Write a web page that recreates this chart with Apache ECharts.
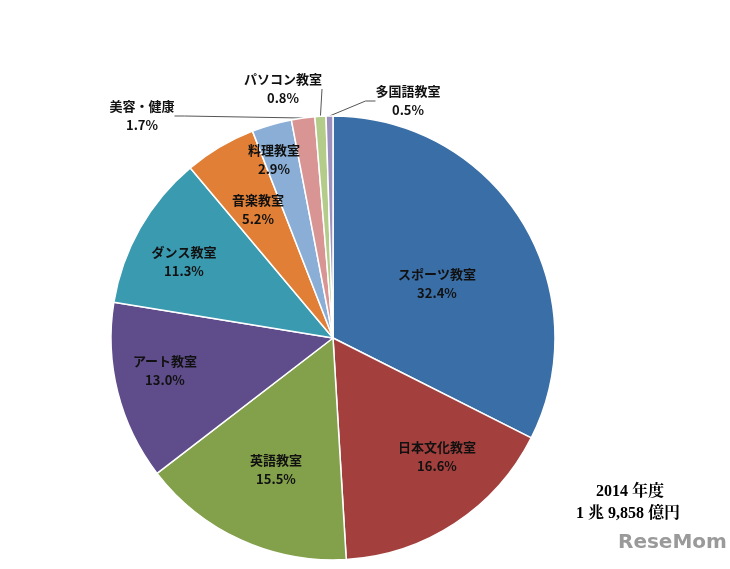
<!DOCTYPE html>
<html><head><meta charset="utf-8">
<script src="https://cdn.jsdelivr.net/npm/echarts@6/dist/echarts.min.js"></script>
<style>html,body{margin:0;background:#fff}#c{width:730px;height:569px}</style>
</head><body><div id="c"></div>
<script>
const categories=['スポーツ教室','日本文化教室','英語教室','アート教室','ダンス教室','音楽教室','料理教室','美容・健康','パソコン教室','多国語教室'];
const values=[32.4,16.6,15.5,13.0,11.3,5.2,2.9,1.7,0.8,0.5];
const colors=['#3A6EA6','#A3403D','#83A04A','#5E4C8B','#3A9AB0','#E07F35','#8AAED6','#D99594','#B4CC8A','#9D8FBE'];
const labelPos={0:[437,284],1:[437,457],2:[276,470],3:[165,371],4:[184,262],5:[258,210],6:[274,160],7:[142,116],8:[283,89],9:[408,101]};
const chart=echarts.init(document.getElementById('c'));
chart.setOption({
 animation:false,
 series:[{type:'pie',center:[333,338],radius:222,startAngle:90,clockwise:true,
  data:categories.map((n,i)=>({name:n,value:values[i],itemStyle:{color:colors[i]},
    label:{position:i>=7?'outside':'inside'},labelLine:{show:i>=7,length:10,length2:10,lineStyle:{color:'#555',width:1}}})),
  itemStyle:{borderColor:'#fff',borderWidth:1.5},
  label:{formatter:p=>p.name+'\n'+p.value.toFixed(1)+'%',color:'#111',fontSize:13,fontWeight:'bold',lineHeight:19,
    fontFamily:'Noto Sans CJK JP',align:'center'},
  labelLayout:p=>{const q=labelPos[p.dataIndex];return q?{x:q[0],y:q[1],align:'center',verticalAlign:'middle'}:{};}
 }],
 graphic:[
  {type:'text',left:596,top:484,style:{text:'2014 年度',font:'bold 16px "Liberation Serif", "Noto Serif CJK JP", serif',fill:'#000'}},
  {type:'text',left:576,top:506,style:{text:'1 兆 9,858 億円',font:'bold 16px "Liberation Serif", "Noto Serif CJK JP", serif',fill:'#000'}},
  {type:'text',left:618,top:533,style:{text:'ReseMom',font:'bold 20px "DejaVu Sans"',fill:'#9a9a9a'}}
 ]
});
</script></body></html>
